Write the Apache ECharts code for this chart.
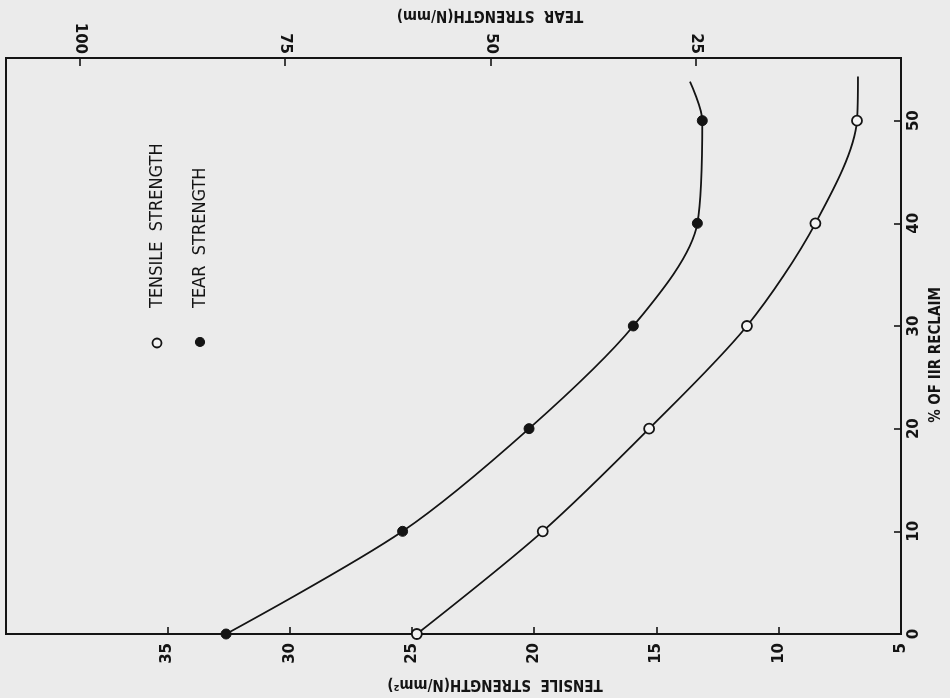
<!DOCTYPE html>
<html>
<head>
<meta charset="utf-8">
<script src="https://cdn.jsdelivr.net/npm/echarts@6/dist/echarts.min.js"></script>
<style>
html,body{margin:0;padding:0;background:#ebebeb;}
#chart{width:950px;height:698px;}
</style>
</head>
<body>
<div id="chart"></div>
<script>
// % of IIR reclaim levels
var reclaimPct = [0, 10, 20, 30, 40, 50];
// Tensile strength (N/mm^2), open circles
var tensileStrength = [24.8, 19.65, 15.3, 11.3, 8.5, 6.8];
// Tear strength (N/mm), filled circles
var tearStrength = [82.2, 60.7, 45.3, 32.6, 24.8, 24.2];
// Where each drawn curve ends beyond the last point: [value, % reclaim]
var tensileCurveEnd = [6.76, 54.3];
var tearCurveEnd = [25.7, 53.8];
// Tick labels
var tensileTicks = [5, 10, 15, 20, 25, 30, 35];
var tearTicks = [25, 50, 75, 100];
var reclaimTicks = [0, 10, 20, 30, 40, 50];

var FONT = '"DejaVu Sans", sans-serif';
var FONT_C = '"DejaVu Sans Condensed", "DejaVu Sans", sans-serif';
var INK = '#141414';

function build(vals, end) {
  var d = reclaimPct.map(function (p, i) { return [vals[i], p]; });
  d.push({ value: end, symbol: 'none' });
  return d;
}

var chart = echarts.init(document.getElementById('chart'));
chart.setOption({
  backgroundColor: '#ebebeb',
  animation: false,
  grid: { left: 6, right: 49, top: 58, bottom: 64, show: true, borderColor: INK, borderWidth: 2, backgroundColor: 'transparent' },
  xAxis: [
    {
      type: 'value', position: 'bottom', inverse: true, min: 5, max: 41.6,
      axisLine: { show: true, lineStyle: { color: INK, width: 2 } },
      axisTick: { show: true, inside: true, length: 7, customValues: tensileTicks, lineStyle: { color: INK, width: 1.6 } },
      axisLabel: { customValues: tensileTicks, rotate: 90, margin: 9, color: INK, fontFamily: FONT, fontWeight: 'bold', fontSize: 15 },
      splitLine: { show: false }
    },
    {
      type: 'value', position: 'top', inverse: true, min: 0, max: 109.0,
      axisLine: { show: true, lineStyle: { color: INK, width: 2 } },
      axisTick: { show: true, inside: true, length: 8, customValues: tearTicks, lineStyle: { color: INK, width: 1.6 } },
      axisLabel: { customValues: tearTicks, rotate: 90, margin: 4, color: INK, fontFamily: FONT, fontWeight: 'bold', fontSize: 15 },
      splitLine: { show: false }
    }
  ],
  yAxis: [
    {
      type: 'value', position: 'right', min: 0, max: 56.1,
      axisLine: { show: true, lineStyle: { color: INK, width: 2 } },
      axisTick: { show: true, inside: true, length: 7, customValues: reclaimTicks, lineStyle: { color: INK, width: 1.6 } },
      axisLabel: { customValues: reclaimTicks, rotate: 90, margin: 6, color: INK, fontFamily: FONT, fontWeight: 'bold', fontSize: 15 },
      splitLine: { show: false }
    }
  ],
  series: [
    {
      name: 'TENSILE STRENGTH', type: 'line', xAxisIndex: 0, yAxisIndex: 0,
      data: build(tensileStrength, tensileCurveEnd),
      smooth: 0.3,
      symbol: 'circle', symbolSize: 10, showAllSymbol: true,
      lineStyle: { color: INK, width: 1.8 },
      itemStyle: { color: '#f4f4f4', borderColor: INK, borderWidth: 1.8 },
      z: 3
    },
    {
      name: 'TEAR STRENGTH', type: 'line', xAxisIndex: 1, yAxisIndex: 0,
      data: build(tearStrength, tearCurveEnd),
      smooth: 0.3,
      symbol: 'circle', symbolSize: 10, showAllSymbol: true,
      lineStyle: { color: INK, width: 1.8 },
      itemStyle: { color: INK, borderColor: INK, borderWidth: 1 },
      z: 3
    }
  ],
  graphic: [
    { type: 'text', x: 490, y: 15, rotation: Math.PI, style: { text: 'TEAR  STRENGTH(N/mm)', fill: INK, font: 'bold 15px ' + FONT_C, textAlign: 'center', textVerticalAlign: 'middle' } },
    { type: 'text', x: 495, y: 684, rotation: Math.PI, style: { text: 'TENSILE  STRENGTH(N/mm²)', fill: INK, font: 'bold 15px ' + FONT_C, textAlign: 'center', textVerticalAlign: 'middle' } },
    { type: 'text', x: 936, y: 355, rotation: Math.PI / 2, style: { text: '% OF IIR RECLAIM', fill: INK, font: 'bold 15px ' + FONT_C, textAlign: 'center', textVerticalAlign: 'middle' } },
    { type: 'circle', shape: { cx: 157, cy: 343, r: 4.5 }, style: { fill: '#f4f4f4', stroke: INK, lineWidth: 1.8 } },
    { type: 'text', x: 157, y: 308, rotation: Math.PI / 2, style: { text: 'TENSILE  STRENGTH', fill: INK, font: '18px ' + FONT_C, textAlign: 'left', textVerticalAlign: 'middle' } },
    { type: 'circle', shape: { cx: 200, cy: 342, r: 4.5 }, style: { fill: INK, stroke: INK, lineWidth: 1.2 } },
    { type: 'text', x: 200, y: 308, rotation: Math.PI / 2, style: { text: 'TEAR  STRENGTH', fill: INK, font: '18px ' + FONT_C, textAlign: 'left', textVerticalAlign: 'middle' } }
  ]
});
</script>
</body>
</html>
